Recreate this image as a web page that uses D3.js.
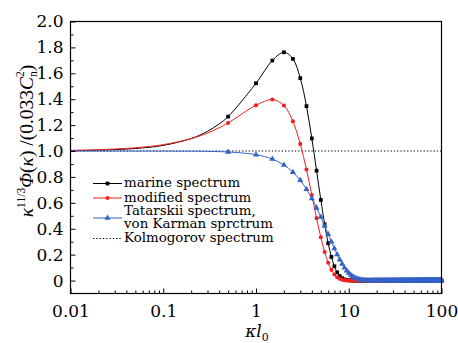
<!DOCTYPE html>
<html><head><meta charset="utf-8">
<script src="https://cdn.jsdelivr.net/npm/d3@7"></script>
<style>
html,body{margin:0;padding:0;background:#fff;}
svg{display:block;}
text{font-family:"DejaVu Serif",serif;fill:#000;}
</style></head>
<body>
<svg id="c" width="458" height="343"></svg>
<script>
// ---- data ----
const leadK = [0.01, 0.02, 0.05, 0.1, 0.2, 0.3, 0.4];            // line-only points
const marineLead    = [1.0030, 1.0067, 1.0195, 1.0435, 1.0964, 1.1521, 1.2088];
const modifiedLead  = [1.0052, 1.0102, 1.0252, 1.0493, 1.0955, 1.1389, 1.1793];
const tatarskiiLead = [1.0000, 1.0000, 1.0000, 0.9997, 0.9989, 0.9974, 0.9954];

const markerK = [0.5,1,1.5,2,2.5,3,3.5,4,4.5,5,5.5,6,6.5,7,7.5,8,8.5,9,9.5,10,10.5,11,11.5,12,12.5,13,13.5,14,14.5,15,15.5,16];
const marine = [1.2655,1.5232,1.6985,1.7624,1.7116,1.5628,1.3464,1.0974,0.8482,0.6223,0.4342,0.2884,0.1824,0.1100,0.0632,0.0347,0.0182,0.0091,0.0043,0.0020,0.0009,0.0004,0,0,0,0,0,0,0,0,0,0];
const modified = [1.2167,1.3529,1.3972,1.3510,1.2288,1.0550,0.8569,0.6596,0.4817,0.3340,0.2203,0.1381,0.0824,0.0468,0.0253,0.0130,0.0064,0.0030,0.0013,0.0006,0.0002,0,0,0,0,0,0,0,0,0,0,0];
const tatarskii = [0.9929,0.9719,0.9378,0.8921,0.8367,0.7735,0.7050,0.6335,0.5611,0.4900,0.4218,0.3580,0.2995,0.2471,0.2009,0.1610,0.1272,0.0991,0.0761,0.0577,0.0430,0.0317,0.0230,0.0164,0.0116,0.0080,0.0055,0.0037,0.0025,0.0016,0.0011,0.0007];

// beyond kl0 = 16 every curve sits on zero (markers every 0.5 up to 100)
const tailK = d3.range(16.5, 100.001, 0.5);
const tailValue = 0;

const kolmoK = [0.01, 100];
const kolmo = [1, 1];

const xMajor = [0.01, 0.1, 1, 10, 100];
const xMajorLabels = ["0.01", "0.1", "1", "10", "100"];
const yMajor = [0, 0.2, 0.4, 0.6, 0.8, 1.0, 1.2, 1.4, 1.6, 1.8, 2.0];
const yMajorLabels = ["0", "0.2", "0.4", "0.6", "0.8", "1.0", "1.2", "1.4", "1.6", "1.8", "2.0"];
const yMinor = [0.1, 0.3, 0.5, 0.7, 0.9, 1.1, 1.3, 1.5, 1.7, 1.9];

const seriesNames = ["marine spectrum", "modified spectrum", "Tatarskii spectrum,", "Kolmogorov spectrum"];

// ---- layout ----
const L = 70.5, R = 441.5, T = 21.5, B = 293.5;
const svg = d3.select("#c");
const x = d3.scaleLog().domain([0.01, 100]).range([L, R]);
const y = d3.scaleLinear().domain([-0.1, 2.0]).range([B, T]);

const colors = {marine: "#000000", modified: "#f41e1e", tatarskii: "#3462c6"};

function pts(lead, vals) {
  const a = leadK.map((k, i) => [k, lead[i]]);
  const b = markerK.map((k, i) => [k, vals[i]]);
  const c = tailK.map(k => [k, tailValue]);
  return a.concat(b, c);
}
function mpts(vals) {
  return markerK.map((k, i) => [k, vals[i]]).concat(tailK.map(k => [k, tailValue]));
}

const line = d3.line().x(d => x(d[0])).y(d => y(d[1])).curve(d3.curveCatmullRom.alpha(0.5));

// Kolmogorov dotted
svg.append("path")
  .attr("d", d3.line().x(d => x(d[0])).y(d => y(d[1]))(kolmoK.map((k, i) => [k, kolmo[i]])))
  .attr("fill", "none").attr("stroke", "#000").attr("stroke-width", 1)
  .attr("stroke-dasharray", "1.3,2");

const sq = d3.symbol().type(d3.symbolSquare).size(14);
const ci = d3.symbol().type(d3.symbolCircle).size(13);
const tr = d3.symbol().type(d3.symbolTriangle).size(16);

function drawSeries(data, markers, color, sym) {
  svg.append("path").attr("d", line(data)).attr("fill", "none")
    .attr("stroke", color).attr("stroke-width", 1);
  svg.append("g").selectAll("path").data(markers).join("path")
    .attr("transform", d => `translate(${x(d[0])},${y(d[1])})`)
    .attr("d", sym).attr("fill", color);
}
drawSeries(pts(marineLead, marine), mpts(marine), colors.marine, sq);
drawSeries(pts(modifiedLead, modified), mpts(modified), colors.modified, ci);
drawSeries(pts(tatarskiiLead, tatarskii), mpts(tatarskii), colors.tatarskii, tr);

// ---- axes ----
const xMinor = x.ticks().filter(v => !xMajor.some(m => Math.abs(m - v) < 1e-9));
const gx = svg.append("g").attr("transform", `translate(0,${B})`)
  .call(d3.axisBottom(x).tickValues(xMajor).tickSize(-5).tickPadding(11)
    .tickFormat((d, i) => xMajorLabels[i]));
gx.select(".domain").remove();
gx.selectAll("text").attr("font-size", 17).style("font-family", "DejaVu Serif").attr("fill", "#000");
gx.selectAll("line").attr("stroke", "#000");
const gxm = svg.append("g").attr("transform", `translate(0,${B})`)
  .call(d3.axisBottom(x).tickValues(xMinor).tickSize(-3).tickFormat(""));
gxm.select(".domain").remove();
gxm.selectAll("line").attr("stroke", "#000");

const gy = svg.append("g").attr("transform", `translate(${L},0)`)
  .call(d3.axisLeft(y).tickValues(yMajor).tickSize(-5).tickPadding(7)
    .tickFormat((d, i) => yMajorLabels[i]));
gy.select(".domain").remove();
gy.selectAll("text").attr("font-size", 17).style("font-family", "DejaVu Serif").attr("fill", "#000");
gy.selectAll("line").attr("stroke", "#000");
const gym = svg.append("g").attr("transform", `translate(${L},0)`)
  .call(d3.axisLeft(y).tickValues(yMinor).tickSize(-3).tickFormat(""));
gym.select(".domain").remove();
gym.selectAll("line").attr("stroke", "#000");

svg.append("rect").attr("x", L).attr("y", T).attr("width", R - L).attr("height", B - T)
  .attr("fill", "none").attr("stroke", "#000").attr("stroke-width", 1.2);

// ---- axis titles ----
const xt = svg.append("text").attr("x", 257).attr("y", 337).attr("text-anchor", "middle").attr("font-size", 17);
xt.append("tspan").attr("font-style", "italic").text("κl");
xt.append("tspan").attr("font-size", 11).attr("dy", 4).text("0");

const yt = svg.append("text").attr("transform", "translate(33,141) rotate(-90)")
  .attr("text-anchor", "middle").attr("font-size", 19.5)
  .style("font-family", "'Liberation Serif', serif");
yt.append("tspan").attr("font-style", "italic").text("κ");
yt.append("tspan").attr("font-size", 11.5).attr("dy", -8).text("11/3");
yt.append("tspan").attr("dy", 8).attr("font-style", "italic").text("Φ");
yt.append("tspan").text("(");
yt.append("tspan").attr("font-style", "italic").text("κ");
yt.append("tspan").text(") /(0.033");
yt.append("tspan").attr("font-style", "italic").text("C");
yt.append("tspan").attr("font-size", 11.5).attr("dy", 4).text("n");
yt.append("tspan").attr("font-size", 11.5).attr("dx", -5.8).attr("dy", -13).text("2");
yt.append("tspan").attr("dy", 9).text(")");

// ---- legend ----
const lg = svg.append("g");
const lx0 = 93, lx1 = 122, tx = 124;
const rows = [
  {name: seriesNames[0], ly: 183.5, ty: 187, color: colors.marine, sym: sq, dash: null},
  {name: seriesNames[1], ly: 198, ty: 201.5, color: colors.modified, sym: ci, dash: null},
  {name: seriesNames[2], ly: 218, ty: 214.5, color: colors.tatarskii, sym: tr, dash: null},
  {name: seriesNames[3], ly: 238.5, ty: 242, color: "#000", sym: null, dash: "1.3,2"}
];
rows.forEach(r => {
  lg.append("line").attr("x1", lx0).attr("x2", lx1).attr("y1", r.ly).attr("y2", r.ly)
    .attr("stroke", r.color).attr("stroke-width", 1).attr("stroke-dasharray", r.dash);
  if (r.sym) lg.append("path").attr("transform", `translate(${(lx0 + lx1) / 2},${r.ly})`)
    .attr("d", r.sym).attr("fill", r.color);
  lg.append("text").attr("x", tx).attr("y", r.ty).attr("font-size", 13.4).text(r.name);
});
lg.append("text").attr("x", tx).attr("y", 227.5).attr("font-size", 13.4).text("von Karman sprctrum");
</script>
</body></html>
